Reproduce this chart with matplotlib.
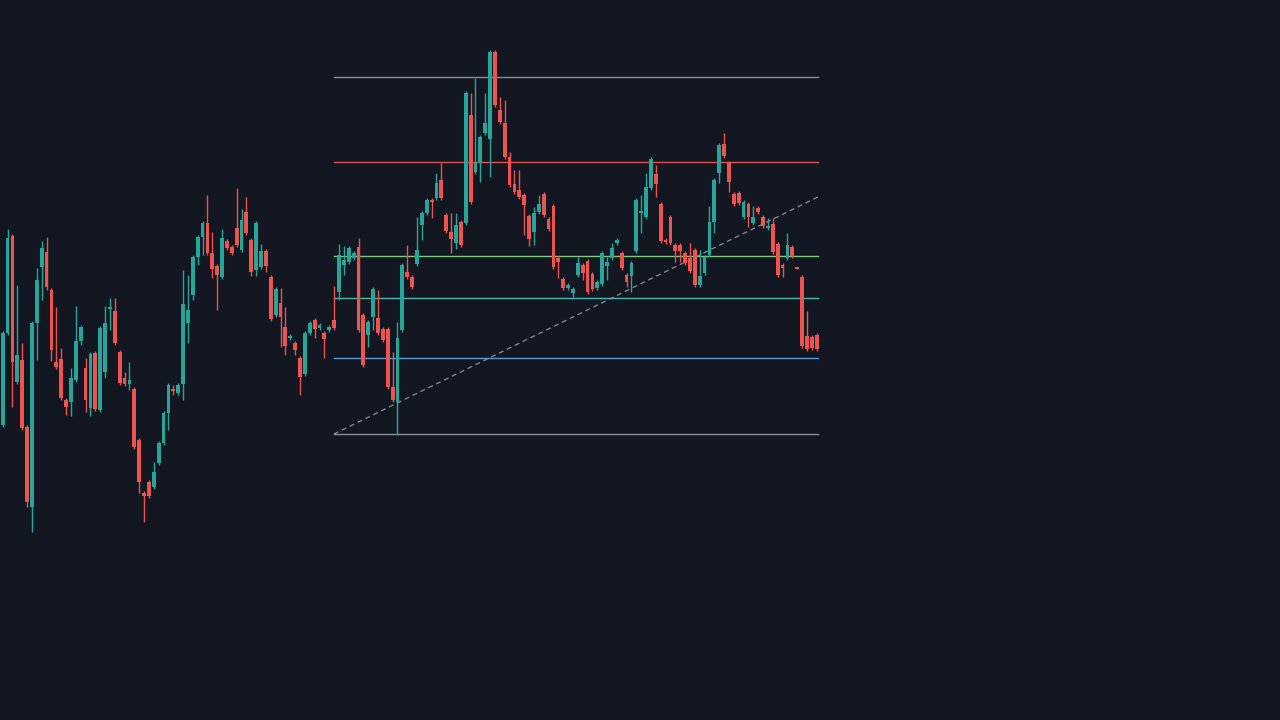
import matplotlib
matplotlib.use("Agg")
import matplotlib.pyplot as plt
import numpy as np

opens = [425,333,236,382,360,427,507,323,267,252,
290,362,359,400,402,380,341,368,408,353,
410,372,309,311,352,378,384,389,440,493,
482,487,463,443,413,389,393,384,323,295,
257,237,223,253,266,277,241,247,228,250,
212,240,270,267,251,277,315,303,327,338,
343,358,374,333,320,328,333,330,320,292,
265,262,258,247,315,335,317,318,329,329,
387,402,330,272,277,264,225,213,200,198,
180,215,232,243,222,223,115,172,163,133,
139,52,110,123,157,184,190,195,216,232,
212,194,219,206,258,279,288,293,275,265,
261,274,288,284,266,258,243,253,275,276,
251,213,217,188,174,204,240,217,245,245,
253,258,250,285,273,255,222,173,144,163,
194,193,217,204,223,208,217,228,224,244,
265,258,247,267,277,336,337,335]
closes = [333,238,362,355,428,502,323,280,248,287,
350,367,398,407,378,341,327,400,354,409,
328,323,307,343,383,384,380,447,482,496,
496,472,443,413,385,391,385,304,310,257,
237,223,253,269,275,238,248,253,245,220,
233,272,223,251,266,319,289,317,346,336,
350,377,333,323,329,325,339,327,328,255,
260,248,253,330,365,322,289,333,340,387,
400,338,265,277,287,250,213,200,202,183,
198,231,239,225,245,93,202,163,137,123,
52,105,122,157,185,192,197,205,239,213,
204,215,229,267,262,288,285,289,263,273,
292,289,282,253,262,248,240,268,282,263,
200,211,187,159,184,241,242,243,251,251,
263,271,285,276,257,222,180,145,156,182,
204,203,202,217,217,212,226,226,252,275,
268,245,256,269,346,349,348,349]
highs = [331,229,234,285,343,425,321,268,241,237,
288,307,348,398,368,306,325,358,352,351,
326,306,298,298,350,372,362,387,438,491,
480,462,441,411,383,385,383,270,275,255,
235,221,195,232,264,229,239,245,188,209,
197,238,221,244,249,275,287,288,307,334,
341,356,331,321,318,323,331,325,286,244,
246,246,251,238,313,320,287,290,327,327,
352,322,263,245,275,217,211,198,198,173,
163,213,213,213,220,91,93,78,135,93,
50,50,97,100,152,170,170,193,214,207,
195,192,217,204,256,277,283,287,257,263,
259,272,280,251,257,243,238,251,273,261,
198,195,173,157,165,202,238,215,243,243,
251,243,248,250,255,206,178,143,133,161,
192,191,200,202,206,206,215,218,218,242,
263,233,245,267,275,311,335,333]
lows = [427,335,407,384,430,507,532,360,300,290,
361,369,400,415,416,382,345,412,416,411,
412,378,330,345,385,386,390,449,493,522,
498,489,465,445,430,395,395,400,343,300,
265,255,255,278,310,279,250,255,247,252,
235,276,276,269,272,321,317,347,355,340,
355,395,376,335,338,330,358,332,330,300,
275,264,260,332,367,347,330,335,342,389,
402,435,332,279,289,266,240,215,218,200,
200,233,253,249,247,225,204,174,182,135,
177,107,124,159,187,194,199,235,246,245,
214,217,231,269,278,290,290,297,277,280,
294,291,290,286,280,260,245,270,287,292,
253,233,219,190,197,243,244,245,262,262,
265,273,287,287,275,257,233,183,158,192,
206,205,219,227,225,214,228,230,254,277,
277,260,258,269,348,351,350,351]

level_values = [77, 162, 256, 298, 358, 434]
level_colors = ["#7f949f", "#d9534f", "#7fc97f", "#4db6ac", "#5b9bd5", "#8a8f9c"]
trend_start = (434, 67.97)
trend_end = (197, 167.27)

BG = "#131722"
UP = "#26a69a"
DN = "#ef5350"
x0, dx = 2.7, 4.874

fig = plt.figure(figsize=(12.8, 7.2), dpi=100, facecolor=BG)
ax = fig.add_axes([0, 0, 1, 1])
ax.set_facecolor(BG)
for s in ax.spines.values():
    s.set_visible(False)
ax.set_xticks([]); ax.set_yticks([])

idx = np.arange(len(opens))
o = np.array(opens); c = np.array(closes); h = np.array(highs); l = np.array(lows)
up = c <= o
cols = np.where(up, UP, DN)
ax.vlines(idx, h, l, colors=cols, linewidth=1.0, zorder=2)
ax.bar(idx, np.maximum(np.abs(c - o), 1.5), bottom=np.minimum(o, c), width=0.78,
       color=cols, linewidth=0, zorder=3)

for v, col in zip(level_values, level_colors):
    ax.axhline(v, xmin=334/1280, xmax=818/1280, color=col, linewidth=1.0, zorder=1)
ax.plot([trend_start[1], trend_end[1]], [trend_start[0], trend_end[0]],
        color="#8a8f9c", linestyle=(0, (4, 3)), linewidth=0.9, zorder=1)

ax.set_xlim(-x0/dx, (1280 - x0)/dx)
ax.set_ylim(720, 0)
fig.savefig("out.png", dpi=100, facecolor=BG)
